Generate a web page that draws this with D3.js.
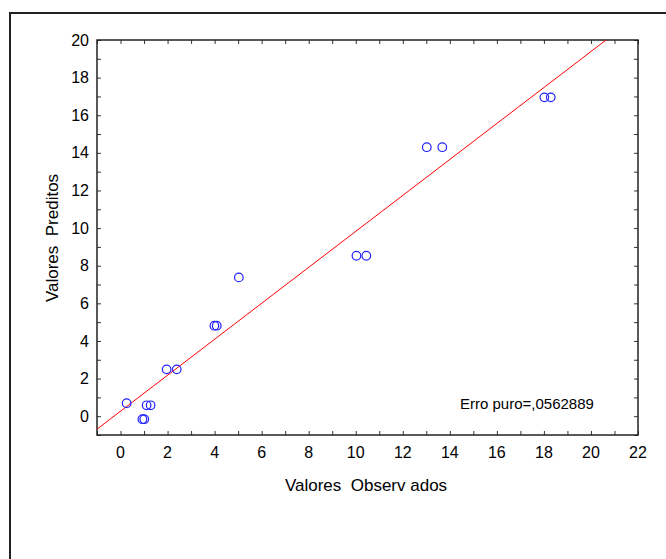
<!DOCTYPE html>
<html lang="en">
<head>
  <meta charset="UTF-8">
  <title>Valores Observados x Preditos</title>
  <script src="https://d3js.org/d3.v7.min.js"></script>
  <style>
    body { margin: 0; background: #fff; }
    text { font-family: "Liberation Sans", Arial, sans-serif; fill: #000; }
    .tick-label { font-size: 16px; }
    .axis-title { font-size: 17px; }
  </style>
</head>
<body>
  <div id="chart"></div>
  <script>
    const observed  = [0.26, 0.93, 1.01, 1.11, 1.28, 1.96, 2.39, 3.99, 4.09, 5.03, 10.03, 10.45, 13.02, 13.68, 18.02, 18.29];
    const predicted = [0.69, -0.16, -0.16, 0.58, 0.58, 2.49, 2.49, 4.81, 4.81, 7.38, 8.53, 8.53, 14.30, 14.30, 16.95, 16.95];

    // fitted line y = intercept + slope * x
    const intercept = 0.266;
    const slope = 0.956;

    const xTicks = [0, 2, 4, 6, 8, 10, 12, 14, 16, 18, 20, 22];
    const yTicks = [0, 2, 4, 6, 8, 10, 12, 14, 16, 18, 20];
    const note = "Erro puro=,0562889";

    const W = 666, H = 559;
    const plot = { left: 97, top: 40, right: 638, bottom: 435 };

    const svg = d3.select("#chart").append("svg")
      .attr("width", W)
      .attr("height", H);

    // outer frame (runs off the right and bottom edges)
    svg.append("rect")
      .attr("x", 10).attr("y", 13)
      .attr("width", 700).attr("height", 600)
      .attr("fill", "none")
      .attr("stroke", "#222")
      .attr("stroke-width", 2);

    const x = d3.scaleLinear().domain([-1, 22]).range([plot.left, plot.right]);
    const y = d3.scaleLinear().domain([-1, 20]).range([plot.bottom, plot.top]);

    const minorX = d3.range(-1, 23);
    const minorY = d3.range(-1, 21);

    // inward ticks on all four sides, no labels
    svg.append("g").attr("transform", `translate(0,${plot.bottom})`)
      .call(d3.axisTop(x).tickValues(minorX).tickSize(4).tickFormat(""));
    svg.append("g").attr("transform", `translate(0,${plot.top})`)
      .call(d3.axisBottom(x).tickValues(minorX).tickSize(4).tickFormat(""));
    svg.append("g").attr("transform", `translate(${plot.left},0)`)
      .call(d3.axisRight(y).tickValues(minorY).tickSize(4).tickFormat(""));
    svg.append("g").attr("transform", `translate(${plot.right},0)`)
      .call(d3.axisLeft(y).tickValues(minorY).tickSize(4).tickFormat(""));

    svg.selectAll(".domain").remove();
    svg.selectAll(".tick line").attr("stroke", "#333").attr("stroke-width", 1);

    // plot box
    svg.append("rect")
      .attr("x", plot.left).attr("y", plot.top)
      .attr("width", plot.right - plot.left)
      .attr("height", plot.bottom - plot.top)
      .attr("fill", "none")
      .attr("stroke", "#222")
      .attr("stroke-width", 1.5);

    // tick labels
    svg.append("g").selectAll("text")
      .data(xTicks)
      .join("text")
      .attr("class", "tick-label")
      .attr("x", d => x(d))
      .attr("y", plot.bottom + 23)
      .attr("text-anchor", "middle")
      .text(d => d);

    svg.append("g").selectAll("text")
      .data(yTicks)
      .join("text")
      .attr("class", "tick-label")
      .attr("x", plot.left - 8)
      .attr("y", d => y(d))
      .attr("dy", "0.35em")
      .attr("text-anchor", "end")
      .text(d => d);

    // axis titles
    svg.append("text")
      .attr("class", "axis-title")
      .attr("x", 366)
      .attr("y", 491)
      .attr("text-anchor", "middle")
      .attr("xml:space", "preserve")
      .text("Valores  Observ ados");

    svg.append("text")
      .attr("class", "axis-title")
      .attr("transform", `translate(58,238) rotate(-90)`)
      .attr("text-anchor", "middle")
      .attr("xml:space", "preserve")
      .text("Valores  Preditos");

    // clip for the fitted line
    svg.append("clipPath").attr("id", "plot-clip")
      .append("rect")
      .attr("x", plot.left).attr("y", plot.top)
      .attr("width", plot.right - plot.left)
      .attr("height", plot.bottom - plot.top);

    const lineX = x.domain();
    svg.append("line")
      .attr("clip-path", "url(#plot-clip)")
      .attr("x1", x(lineX[0]))
      .attr("y1", y(intercept + slope * lineX[0]))
      .attr("x2", x(lineX[1]))
      .attr("y2", y(intercept + slope * lineX[1]))
      .attr("stroke", "#ff0000")
      .attr("stroke-width", 1);

    // observations
    svg.append("g").selectAll("circle")
      .data(observed.map((v, i) => ({ obs: v, pred: predicted[i] })))
      .join("circle")
      .attr("cx", d => x(d.obs))
      .attr("cy", d => y(d.pred))
      .attr("r", 4.3)
      .attr("fill", "none")
      .attr("stroke", "#2222ff")
      .attr("stroke-width", 1.2);

    svg.append("text")
      .attr("x", 460)
      .attr("y", 409)
      .style("font-size", "15px")
      .text(note);
  </script>
</body>
</html>
